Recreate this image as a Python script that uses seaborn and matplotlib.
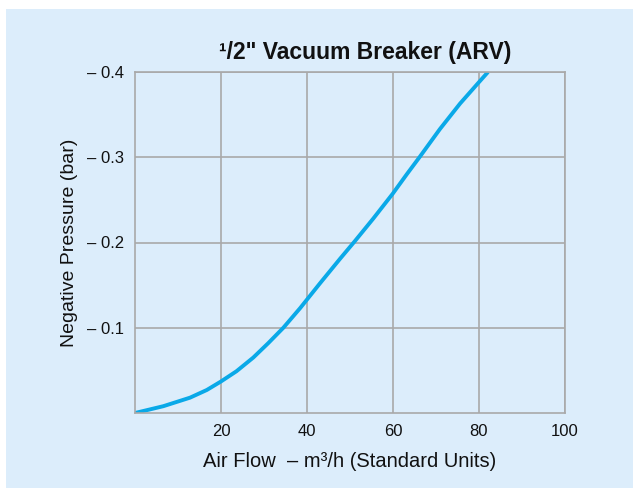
import pandas as pd
import matplotlib.pyplot as plt
import matplotlib.patches as mpatches
import seaborn as sns

# Datos
caudal = [0, 6.6, 12.8, 16.7, 20, 23.6, 27.5, 31, 34.5, 38.4, 43, 47.7, 51.2,
          55.4, 59.9, 63.2, 66.3, 70.9, 75.6, 79.8, 82.1]
presion = [0.0, 0.008, 0.018, 0.027, 0.037, 0.049, 0.065, 0.082, 0.100, 0.123, 0.152, 0.181, 0.202,
           0.228, 0.257, 0.280, 0.301, 0.333, 0.363, 0.387, 0.4]

x_ticks = [20, 40, 60, 80, 100]
y_ticks = [0.1, 0.2, 0.3, 0.4]
y_labels = ['\u2013 0.1', '\u2013 0.2', '\u2013 0.3', '\u2013 0.4']

df = pd.DataFrame({'caudal': caudal, 'presion': presion})

fondo = '#dcedfb'
gris = '#a9a9a9'

sns.set_style('white')
plt.rcParams['font.family'] = ['Liberation Sans', 'DejaVu Sans']

fig = plt.figure(figsize=(6.33, 4.88), dpi=100, facecolor='white')
# Panel azul con borde blanco arriba e izquierda
fig.patches.append(mpatches.Rectangle((6 / 633, 0), 1, 1 - 9 / 488, transform=fig.transFigure,
                                      facecolor=fondo, edgecolor='none', zorder=-10))

ax = fig.add_axes([135 / 633, 1 - 413 / 488, 430 / 633, 341 / 488])
ax.set_facecolor(fondo)

sns.lineplot(data=df, x='caudal', y='presion', ax=ax, color='#0aa9e8', linewidth=2.8,
             solid_joinstyle='round', solid_capstyle='butt')

ax.set_xlim(0, 100)
ax.set_ylim(0, 0.4)
ax.set_xticks(x_ticks)
ax.set_yticks(y_ticks)
ax.set_yticklabels(y_labels)
ax.grid(True, color=gris, linewidth=1.2)
ax.set_axisbelow(True)
for s in ax.spines.values():
    s.set_color(gris)
    s.set_linewidth(1.2)
ax.tick_params(axis='both', length=5, color=gris, width=1.2, labelsize=12, labelcolor='#111111', pad=3)

ax.set_xlabel('Air Flow  \u2013 m\u00b3/h (Standard Units)', fontsize=14.5, labelpad=9, color='#111111')
ax.set_ylabel('Negative Pressure (bar)', fontsize=14, labelpad=6, color='#111111')
ax.set_title('\u00b9/2" Vacuum Breaker (ARV)', fontsize=16.5, fontweight='bold', pad=9,
             color='#111111', x=0.535)

fig.savefig('out.png', dpi=100, facecolor='white')
